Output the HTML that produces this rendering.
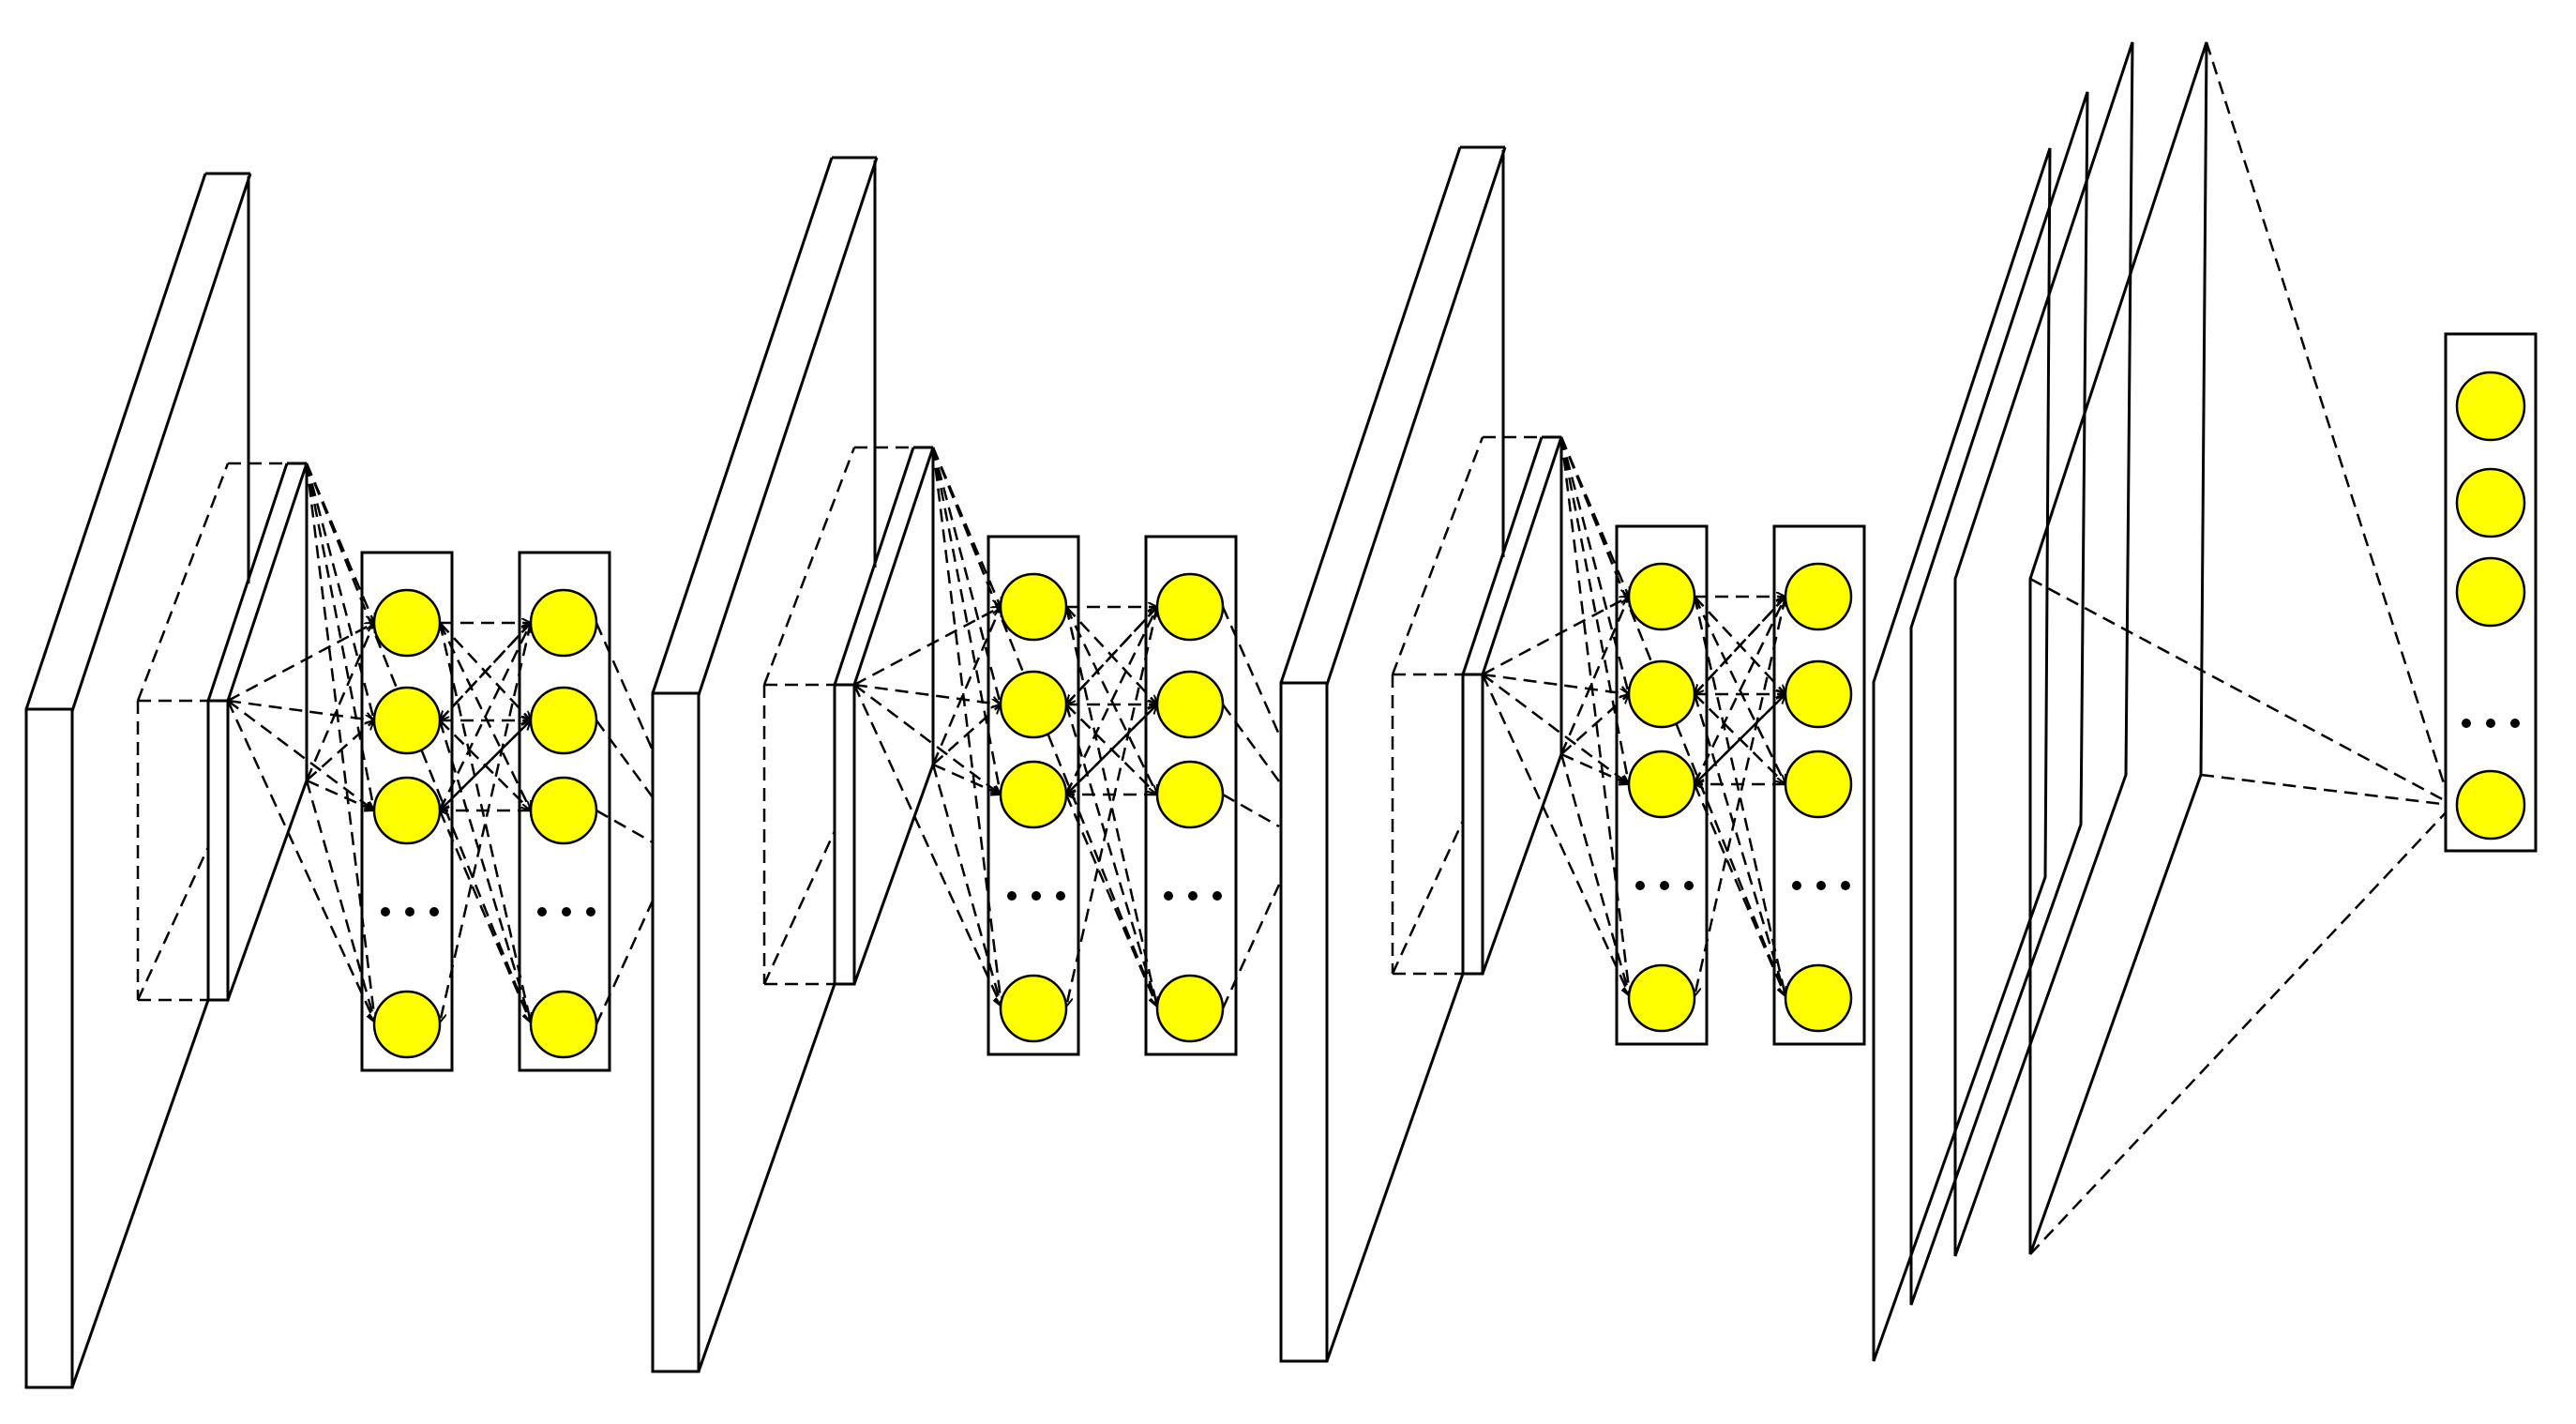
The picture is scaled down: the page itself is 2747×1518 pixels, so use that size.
<!DOCTYPE html>
<html><head><meta charset="utf-8"><style>html,body{margin:0;padding:0;background:#fff}svg{display:block}</style></head>
<body>
<svg xmlns="http://www.w3.org/2000/svg" width="2747" height="1518" viewBox="0 0 2747 1518">
<defs>
<marker id="a" markerWidth="12" markerHeight="12" refX="10" refY="5" orient="auto" markerUnits="userSpaceOnUse"><path d="M0,0 L10,5 L0,10" fill="none" stroke="#000" stroke-width="2"/></marker>
<g id="blk">
 <!-- big slab -->
 <g fill="none" stroke="#000" stroke-width="3">
  <rect x="28" y="756" width="49" height="723" fill="#fff"/>
  <line x1="28" y1="756" x2="219" y2="185"/>
  <line x1="77" y1="758" x2="267" y2="185"/>
  <line x1="219" y1="185" x2="267" y2="185"/>
  <line x1="265" y1="188" x2="265" y2="622"/>
  <line x1="77" y1="1479" x2="222" y2="1066"/>
 </g>
 <!-- small block -->
 <g fill="none" stroke="#000" stroke-width="2.5" stroke-dasharray="14,8">
  <line x1="147" y1="747" x2="222" y2="747"/>
  <line x1="147" y1="747" x2="147" y2="1066"/>
  <line x1="147" y1="1066" x2="222" y2="1066"/>
  <line x1="147" y1="747" x2="243" y2="494"/>
  <line x1="243" y1="494" x2="306" y2="494"/>
  <line x1="147" y1="1066" x2="222" y2="903"/>
 </g>
 <g fill="none" stroke="#000" stroke-width="3">
  <rect x="222" y="747" width="21" height="319" fill="#fff"/>
  <line x1="222" y1="747" x2="306" y2="494"/>
  <line x1="243" y1="747" x2="327" y2="494"/>
  <line x1="306" y1="494" x2="327" y2="494"/>
  <line x1="327" y1="494" x2="327" y2="832"/>
  <line x1="243" y1="1066" x2="327" y2="832"/>
 </g>
 <!-- connections -->
 <g fill="none" stroke="#000" stroke-width="2.5" stroke-dasharray="14,8" marker-end="url(#a)">
  <line x1="327" y1="494" x2="399" y2="664"/>
  <line x1="327" y1="494" x2="399" y2="768"/>
  <line x1="327" y1="494" x2="399" y2="864"/>
  <line x1="327" y1="494" x2="400" y2="1090"/>
  <line x1="327" y1="494" x2="566" y2="1090"/>
  <line x1="243" y1="747" x2="399" y2="664"/>
  <line x1="243" y1="747" x2="399" y2="768"/>
  <line x1="243" y1="747" x2="399" y2="864"/>
  <line x1="243" y1="747" x2="400" y2="1090"/>
  <line x1="327" y1="832" x2="399" y2="664"/>
  <line x1="327" y1="832" x2="399" y2="768"/>
  <line x1="327" y1="832" x2="399" y2="864"/>
  <line x1="327" y1="832" x2="400" y2="1090"/>
  <line x1="469" y1="664" x2="566" y2="664"/>
  <line x1="469" y1="664" x2="566" y2="768"/>
  <line x1="469" y1="664" x2="566" y2="864"/>
  <line x1="469" y1="664" x2="566" y2="1090"/>
  <line x1="469" y1="768" x2="566" y2="664"/>
  <line x1="469" y1="768" x2="566" y2="768"/>
  <line x1="469" y1="768" x2="566" y2="864"/>
  <line x1="469" y1="768" x2="566" y2="1090"/>
  <line x1="469" y1="864" x2="566" y2="664"/>
  <line x1="469" y1="864" x2="566" y2="768"/>
  <line x1="469" y1="864" x2="566" y2="1090"/>
  <line x1="566" y1="664" x2="469" y2="768"/>
  <line x1="566" y1="768" x2="469" y2="864"/>
  <line x1="566" y1="864" x2="469" y2="864"/>
  <line x1="566" y1="664" x2="469" y2="1090"/>
 </g>
 <!-- neuron boxes -->
 <g stroke="#000" stroke-width="3">
  <rect x="386" y="589" width="96" height="552" fill="none"/>
  <rect x="554" y="589" width="96" height="552" fill="none"/>
  <g fill="#ffff00" stroke-width="2.5">
   <ellipse cx="434" cy="664" rx="35" ry="35"/>
   <ellipse cx="434" cy="768" rx="35" ry="35"/>
   <ellipse cx="434" cy="864" rx="35" ry="35"/>
   <ellipse cx="434" cy="1092" rx="35" ry="35"/>
   <ellipse cx="601" cy="664" rx="35" ry="35"/>
   <ellipse cx="601" cy="768" rx="35" ry="35"/>
   <ellipse cx="601" cy="864" rx="35" ry="35"/>
   <ellipse cx="601" cy="1092" rx="35" ry="35"/>
  </g>
 </g>
 <g fill="#000">
  <circle cx="411" cy="972" r="5"/><circle cx="437" cy="972" r="5"/><circle cx="463" cy="972" r="5"/>
  <circle cx="578" cy="972" r="5"/><circle cx="604" cy="972" r="5"/><circle cx="630" cy="972" r="5"/>
 </g>
</g>
<g id="out" fill="none" stroke="#000" stroke-width="2.5" stroke-dasharray="14,8">
  <line x1="636" y1="664" x2="696" y2="800"/>
  <line x1="636" y1="768" x2="696" y2="850"/>
  <line x1="636" y1="864" x2="696" y2="898"/>
  <line x1="636" y1="1092" x2="696" y2="960"/>
</g>
</defs>
<rect width="2747" height="1518" fill="#fff"/>
<use href="#blk"/>
<use href="#out"/>
<use href="#blk" transform="translate(668,-17)"/>
<use href="#out" transform="translate(668,-17)"/>
<use href="#blk" transform="translate(1338,-28)"/>

<!-- planes -->
<g fill="none" stroke="#000" stroke-width="3">
 <path d="M1998,1451 L1998,727 L2186,158 L2181,935 Z"/>
 <path d="M2038,1391 L2038,669 L2226,98 L2219,879 Z"/>
 <path d="M2085,1339 L2085,617 L2274,45 L2267,826 Z"/>
 <path d="M2165,1337 L2165,617 L2353,45 L2347,826 Z"/>
</g>
<g fill="none" stroke="#000" stroke-width="2.5" stroke-dasharray="14,8">
 <line x1="2353" y1="45" x2="2612" y2="854"/>
 <line x1="2165" y1="617" x2="2612" y2="856"/>
 <line x1="2347" y1="826" x2="2612" y2="858"/>
 <line x1="2165" y1="1337" x2="2612" y2="862"/>
</g>
<g stroke="#000" stroke-width="3">
 <rect x="2608" y="356" width="96" height="551" fill="#fff"/>
 <g fill="#ffff00" stroke-width="2.5">
  <ellipse cx="2656" cy="433" rx="36" ry="36"/>
  <ellipse cx="2656" cy="536" rx="36" ry="36"/>
  <ellipse cx="2656" cy="631" rx="36" ry="36"/>
  <ellipse cx="2656" cy="858" rx="36" ry="36"/>
 </g>
</g>
<g fill="#000"><circle cx="2630" cy="771" r="5"/><circle cx="2656" cy="771" r="5"/><circle cx="2682" cy="771" r="5"/></g>
</svg>
</body></html>
